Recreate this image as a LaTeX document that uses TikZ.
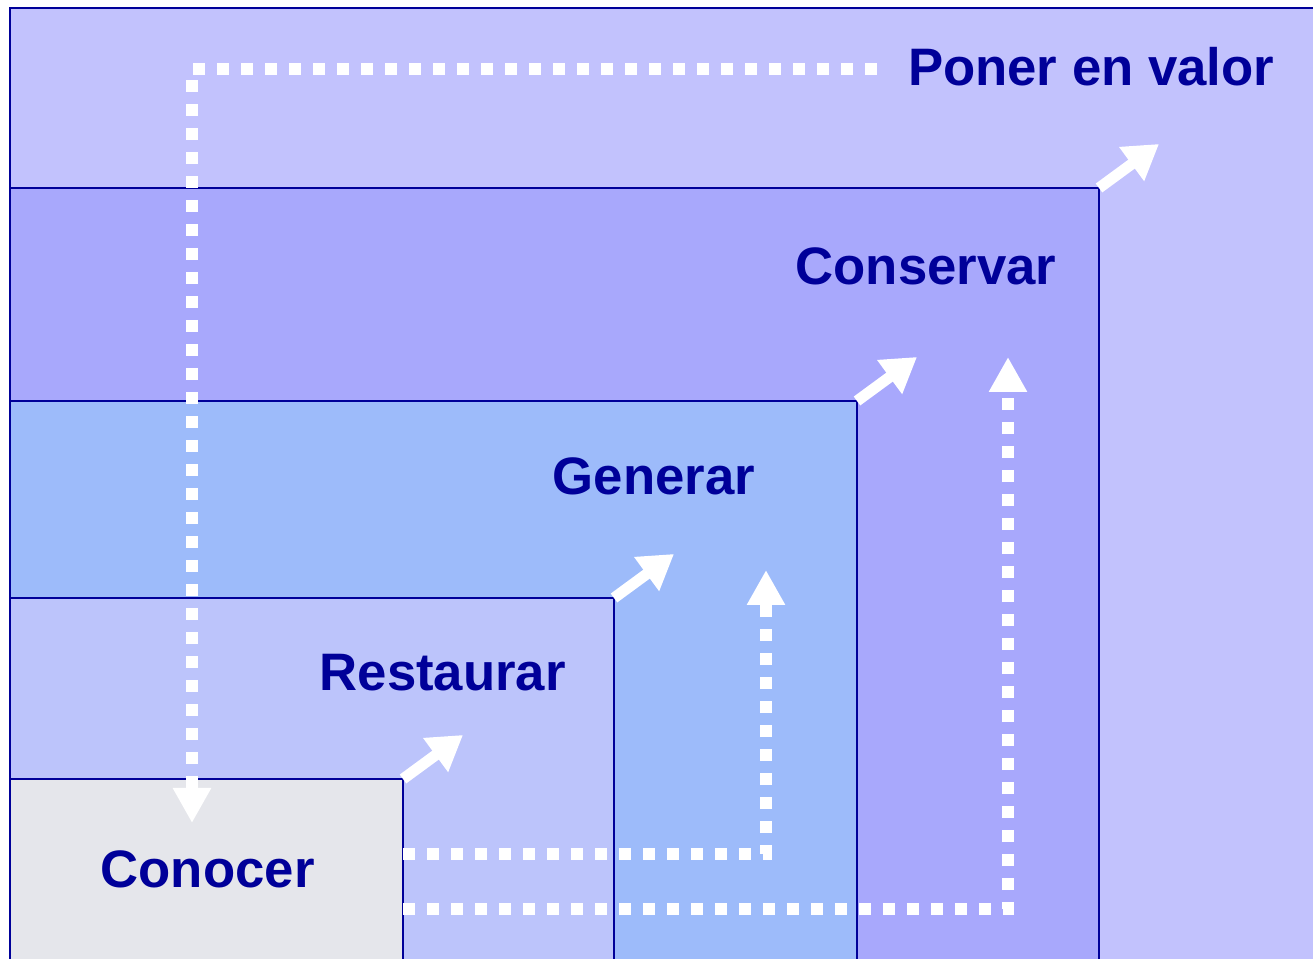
\documentclass[tikz,border=0pt]{standalone}
\usepackage{fontspec}
\setmainfont{Liberation Sans}
\usetikzlibrary{arrows.meta}
\definecolor{navy}{HTML}{000099}
\definecolor{ponerbg}{HTML}{C2C2FD}
\definecolor{conservarbg}{HTML}{A8A8FC}
\definecolor{generarbg}{HTML}{9DBBFA}
\definecolor{restaurarbg}{HTML}{BCC4FB}
\definecolor{conocerbg}{HTML}{E5E6EB}
\tikzstyle{box} = [draw=navy, line width=0.6pt, anchor=south west, inner sep=0, outer sep=0]
\tikzstyle{caption} = [text=navy, font=\fontsize{15}{18}\selectfont\bfseries, inner sep=0]
\tikzstyle{growarrow} = [white, line width=0.11cm, -{Triangle[width=0.40cm,length=0.34cm]}]
\tikzstyle{dotline} = [white, line width=0.12cm, dash pattern=on 0.12cm off 0.12cm, -{Triangle[width=0.36cm,length=0.35cm]}]

\begin{document}
\begin{tikzpicture}
  \useasboundingbox (0,0) rectangle (13.13,9.58);
  % Boxes
  \node[box, fill=ponerbg, minimum width=13.5cm, minimum height=9.6cm] (poner) at (0.1,-0.1) {};
  \node[box, fill=conservarbg, minimum width=10.89cm, minimum height=7.8cm] (conservar) at (0.1,-0.1) {};
  \node[box, fill=generarbg, minimum width=8.47cm, minimum height=5.67cm] (generar) at (0.1,-0.1) {};
  \node[box, fill=restaurarbg, minimum width=6.04cm, minimum height=3.7cm] (restaurar) at (0.1,-0.1) {};
  \node[box, fill=conocerbg, minimum width=3.93cm, minimum height=1.89cm] (conocer) at (0.1,-0.1) {};
  % Labels
  \node[caption, anchor=base east] (ponerlabel) at (12.75,8.72) {Poner en valor};
  \node[caption, anchor=base west] (conservarlabel) at (7.95,6.73) {Conservar};
  \node[caption, anchor=base west] (generarlabel) at (5.52,4.63) {Generar};
  \node[caption, anchor=base west] (restaurarlabel) at (3.19,2.67) {Restaurar};
  \node[caption, anchor=base west] (conocerlabel) at (1.00,0.71) {Conocer};
  % Growth arrows
  \foreach \b in {conocer, restaurar, generar, conservar} {
    \draw[growarrow] (\b.north east) -- ++(0.6,0.44);
  }
  % Dotted paths
  \coordinate (topstart) at (8.77,8.89);
  \coordinate (topend) at (1.92,1.35);
  \coordinate (midstart) at (4.03,1.04);
  \coordinate (midend) at (7.66,3.88);
  \coordinate (lowstart) at (4.03,0.49);
  \coordinate (lowend) at (10.08,6.01);
  \draw[dotline] (topstart) -| (topend);
  \draw[dotline] (midstart) -| (midend);
  \draw[dotline] (lowstart) -| (lowend);
\end{tikzpicture}
\end{document}
